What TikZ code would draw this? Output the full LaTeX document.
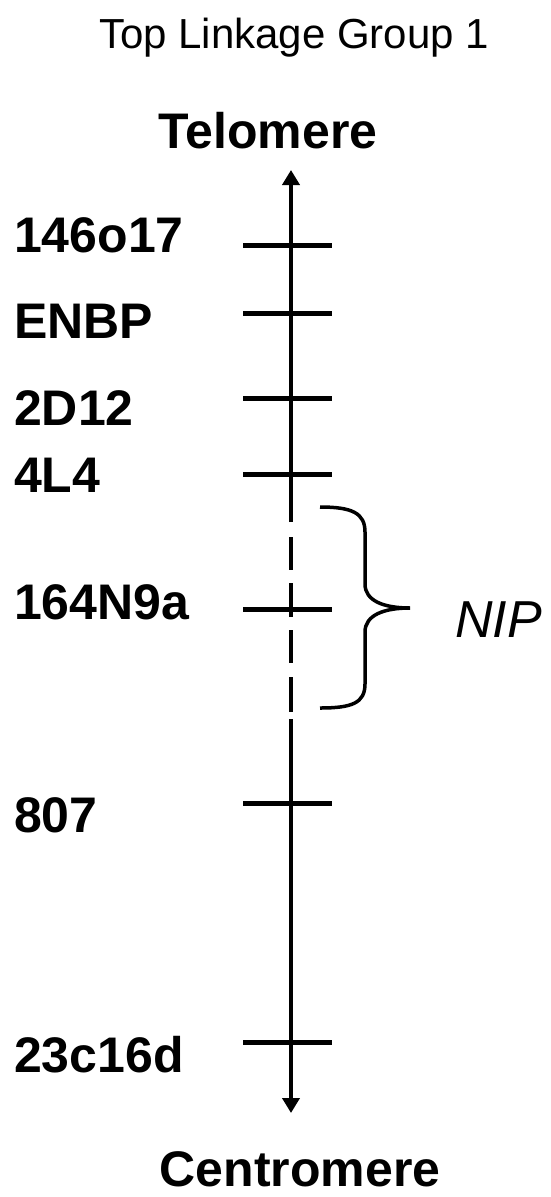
\documentclass[tikz,border=0pt]{standalone}
\usepackage{fontspec}
\setmainfont{Liberation Sans}
\usetikzlibrary{arrows.meta}
\newcommand{\fsz}[1]{\fontsize{#1}{#1}\selectfont}
\begin{document}
\begin{tikzpicture}[x=1pt,y=-1pt,
  axisline/.style={line width=4pt},
  tickmark/.style={line width=5pt},
  bracestyle/.style={line width=3.5pt},
  marker/.style={anchor=base west,inner sep=0pt,font=\fsz{50}\bfseries},
  endlabel/.style={anchor=base,inner sep=0pt,font=\fsz{50}\bfseries},
  tipstyle/.style={-{Triangle[length=15pt,width=17pt]}}]
\useasboundingbox (0,0) rectangle (550,1197);

% headings
\node[anchor=base,inner sep=0pt,font=\fsz{42}] (title) at (294,48) {Top Linkage Group 1};
\node[endlabel] (tel) at (268,148) {Telomere};
\node[endlabel] (cen) at (300,1186) {Centromere};

% axis end points
\coordinate (top) at (291,170);
\coordinate (bot) at (291,1113);
\coordinate (gapA) at (291,522);
\coordinate (gapB) at (291,719);

% solid parts of the chromosome axis
\draw[axisline,tipstyle] (gapA) -- (top);
\draw[axisline,tipstyle] (gapB) -- (bot);
% interrupted part
\foreach \a/\b in {537/570,583/617,630/663,677/712}
  \draw[axisline] (291,\a) -- (291,\b);

% markers and their ticks
\foreach \nm/\txt/\base/\ty in {m1/146o17/252/245, m2/ENBP/338/313, m3/2D12/425/398,
  m4/4L4/492/474, m5/164N9a/619/609, m6/807/832/803, m7/23c16d/1072/1042}{
  \node[marker] (\nm) at (14,\base) {\txt};
  \coordinate (\nm l) at (243,\ty);
  \coordinate (\nm r) at (332,\ty);
  \draw[tickmark] (\nm l) -- (\nm r);
}

% brace over the interrupted region
\coordinate (bt) at (320,507);
\coordinate (bb) at (320,708);
\coordinate (tip) at (410,608);
\draw[bracestyle] (bt) .. controls (352,507) and (365,513) .. (365,532)
  -- (365,584) .. controls (365,601) and (384,608) .. (tip)
  .. controls (384,608) and (365,615) .. (365,632)
  -- (365,684) .. controls (365,703) and (352,708) .. (bb);
\node[anchor=base west,inner sep=0pt,font=\fsz{52}\itshape] (nip) at (455,637) {NIP};
\end{tikzpicture}
\end{document}
